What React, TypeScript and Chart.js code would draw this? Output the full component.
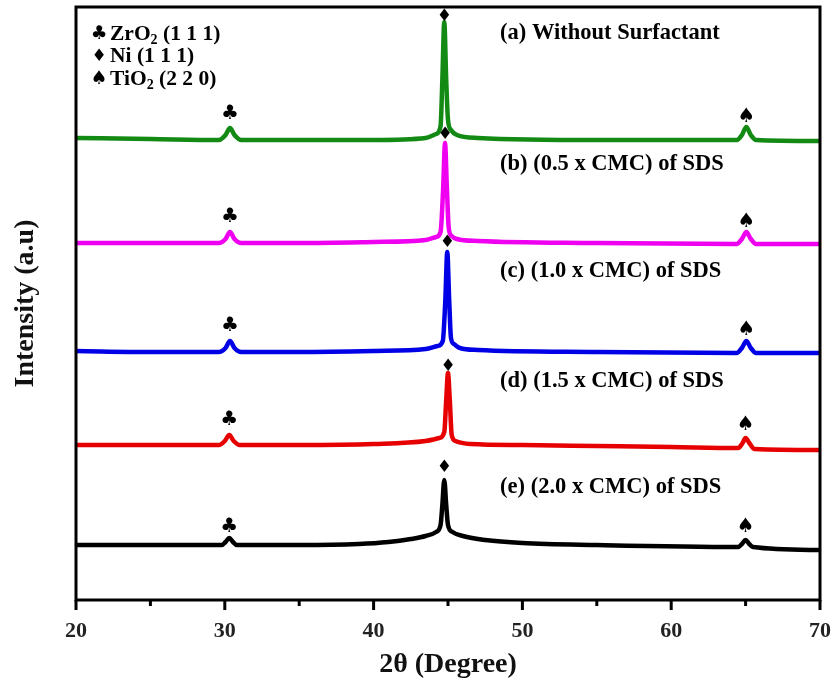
import React, { useEffect, useRef } from "react";
import { Chart, registerables } from "chart.js";

Chart.register(...registerables);

// ---------- data ----------
const X_MIN = 20;
const X_MAX = 70;
const X_TICKS = [20, 30, 40, 50, 60, 70];
const X_MINOR = [25, 35, 45, 55, 65];

const SERIES_NAMES = [
  "(a) Without Surfactant",
  "(b) (0.5 x CMC) of SDS",
  "(c) (1.0 x CMC) of SDS",
  "(d) (1.5 x CMC) of SDS",
  "(e) (2.0 x CMC) of SDS",
];
const COLORS = ["#138a13", "#f000f0", "#0000e6", "#e60000", "#000000"];

// (a) Without Surfactant
const xA = [20, 25, 29.6, 30.05, 30.35, 30.65, 31.1, 35, 40, 43.5, 44.2, 44.5, 44.62, 44.75, 44.88, 45.0, 45.2, 45.6, 47, 55, 64.4, 64.75, 65.05, 65.35, 65.7, 70];
const yA = [462, 461, 460, 465, 472, 465, 460, 460, 460, 462, 466, 474, 520, 578, 520, 480, 470, 465, 462, 460, 460, 465, 473, 465, 460, 459];

// (b) 0.5 x CMC
const xB = [20, 25, 29.6, 30.05, 30.35, 30.65, 31.1, 35, 40, 43.5, 44.2, 44.5, 44.67, 44.8, 44.93, 45.05, 45.25, 45.6, 47, 55, 64.4, 64.75, 65.05, 65.35, 65.7, 70];
const yB = [357, 357, 357, 361, 368, 361, 357, 357, 358, 360, 363, 368, 410, 457, 410, 372, 364, 361, 359, 357, 356, 361, 368, 361, 356, 356];

// (c) 1.0 x CMC
const xC = [20, 25, 29.6, 30.05, 30.35, 30.65, 31.1, 35, 40, 43.5, 44.3, 44.65, 44.82, 44.95, 45.08, 45.2, 45.4, 45.8, 47, 55, 64.4, 64.75, 65.05, 65.35, 65.7, 70];
const yC = [249, 248, 248, 252, 259, 252, 248, 248, 249, 251, 254, 259, 300, 348, 300, 262, 256, 252, 250, 248, 247, 252, 259, 252, 247, 247];

// (d) 1.5 x CMC
const xD = [20, 25, 29.6, 30.0, 30.3, 30.6, 31.0, 35, 40, 43.5, 44.4, 44.75, 44.88, 45.0, 45.12, 45.25, 45.5, 46.5, 50, 55, 60, 64.5, 64.8, 65.0, 65.25, 65.6, 70];
const yD = [155, 155, 155, 159, 165, 159, 155, 155, 156, 159, 162, 168, 200, 227, 200, 165, 159, 156, 155, 154, 153, 152, 157, 162, 157, 151, 150];

// (e) 2.0 x CMC
const xE = [20, 25, 29.8, 30.05, 30.3, 30.55, 30.8, 35, 39, 41, 42.5, 43.5, 44.2, 44.5, 44.62, 44.75, 44.88, 45.0, 45.3, 46, 47.5, 50, 55, 64.5, 64.75, 65.0, 65.25, 65.5, 70];
const yE = [55, 55, 55, 58, 62, 58, 55, 55, 56, 58, 61, 64, 68, 75, 95, 120, 95, 75, 68, 64, 60, 57, 55, 53, 56, 60, 56, 53, 50];

const SERIES_X = [xA, xB, xC, xD, xE];
const SERIES_Y = [yA, yB, yC, yD, yE];

// peak markers (2θ, intensity)
const CLUB_X = [30.35, 30.35, 30.35, 30.3, 30.3];
const CLUB_Y = [486, 383, 274, 180, 73];
const DIAMOND_X = [44.75, 44.8, 44.95, 45.0, 44.75];
const DIAMOND_Y = [583, 465, 357, 233, 132];
const SPADE_X = [65.05, 65.05, 65.05, 65.0, 65.0];
const SPADE_Y = [483, 378, 270, 175, 73];

// curve label anchors
const LABEL_X = 48.5;
const LABEL_Y = [567, 436, 329, 219, 113];

const LEGEND = [
  { sym: "\u2663", main: "ZrO", sub: "2", rest: " (1 1 1)" },
  { sym: "\u2666", main: "Ni (1 1 1)", sub: "", rest: "" },
  { sym: "\u2660", main: "TiO", sub: "2", rest: " (2 2 0)" },
];

const SERIF = "'Liberation Serif', 'Times New Roman', serif";
const SYMF = "'DejaVu Sans', sans-serif";

const decorPlugin = {
  id: "decor",
  afterDraw(chart: any) {
    const { ctx, chartArea } = chart;
    const xs = chart.scales.x;
    const ys = chart.scales.y;
    ctx.save();

    // frame
    ctx.strokeStyle = "#000";
    ctx.lineWidth = 3;
    ctx.strokeRect(chartArea.left, chartArea.top, chartArea.right - chartArea.left, chartArea.bottom - chartArea.top);

    // tick marks
    const drawTick = (v: number, len: number) => {
      const px = xs.getPixelForValue(v);
      ctx.beginPath();
      ctx.moveTo(px, chartArea.bottom);
      ctx.lineTo(px, chartArea.bottom + len);
      ctx.stroke();
    };
    X_TICKS.forEach((v) => drawTick(v, 10));
    X_MINOR.forEach((v) => drawTick(v, 6));

    // peak symbols
    ctx.fillStyle = "#000";
    ctx.textAlign = "center";
    ctx.textBaseline = "middle";
    const sym = (s: string, xv: number[], yv: number[], size: number) => {
      ctx.font = `${size}px ${SYMF}`;
      for (let i = 0; i < xv.length; i++) {
        ctx.fillText(s, xs.getPixelForValue(xv[i]), ys.getPixelForValue(yv[i]));
      }
    };
    sym("\u2663", CLUB_X, CLUB_Y, 20);
    sym("\u2666", DIAMOND_X, DIAMOND_Y, 17);
    sym("\u2660", SPADE_X, SPADE_Y, 20);

    // curve labels
    ctx.textAlign = "left";
    ctx.font = `bold 22.5px ${SERIF}`;
    SERIES_NAMES.forEach((n, i) => {
      ctx.fillText(n, xs.getPixelForValue(LABEL_X), ys.getPixelForValue(LABEL_Y[i]));
    });

    // legend
    const lx = chartArea.left + 14;
    const ly0 = chartArea.top + 27;
    LEGEND.forEach((e, i) => {
      const y = ly0 + i * 22.5;
      ctx.font = `${e.sym === "\u2666" ? 17 : 19}px ${SYMF}`;
      ctx.textAlign = "center";
      ctx.fillText(e.sym, lx + 9, y);
      ctx.textAlign = "left";
      let x = lx + 20;
      ctx.font = `bold 21.5px ${SERIF}`;
      ctx.fillText(e.main, x, y);
      x += ctx.measureText(e.main).width;
      if (e.sub) {
        ctx.font = `bold 14px ${SERIF}`;
        ctx.fillText(e.sub, x, y + 6);
        x += ctx.measureText(e.sub).width;
        ctx.font = `bold 21.5px ${SERIF}`;
        ctx.fillText(e.rest, x, y);
      }
    });

    ctx.restore();
  },
};

export default function App() {
  const ref = useRef<HTMLCanvasElement | null>(null);

  useEffect(() => {
    if (!ref.current) return;
    const datasets = SERIES_NAMES.map((name, i) => ({
      label: name,
      data: SERIES_X[i].map((x, j) => ({ x, y: SERIES_Y[i][j] })),
      borderColor: COLORS[i],
      backgroundColor: COLORS[i],
      borderWidth: 4.5,
      pointRadius: 0,
      cubicInterpolationMode: "monotone" as const,
      fill: false,
    }));
    const chart = new Chart(ref.current, {
      type: "line",
      data: { datasets },
      plugins: [decorPlugin],
      options: {
        animation: false,
        responsive: false,
        devicePixelRatio: 1,
        layout: { padding: { left: 0, top: 7, right: 13, bottom: 0 } },
        plugins: { legend: { display: false }, tooltip: { enabled: false } },
        scales: {
          x: {
            type: "linear",
            min: X_MIN,
            max: X_MAX,
            afterBuildTicks: (s: any) => {
              s.ticks = X_TICKS.map((v) => ({ value: v }));
            },
            afterFit: (s: any) => {
              s.height = 86;
              s.paddingLeft = 0;
              s.paddingRight = 0;
            },
            grid: { display: false, drawTicks: false },
            border: { display: false },
            ticks: {
              padding: 18,
              color: "#222",
              maxRotation: 0,
              font: { family: SERIF, size: 22, weight: "bold" },
            },
            title: {
              display: true,
              text: "2\u03B8 (Degree)",
              color: "#111",
              font: { family: SERIF, size: 28, weight: "bold" },
              padding: { top: 0, bottom: 4 },
            },
          },
          y: {
            type: "linear",
            min: 0,
            max: 593,
            afterFit: (s: any) => {
              s.width = 76;
              s.paddingTop = 0;
              s.paddingBottom = 0;
            },
            grid: { display: false, drawTicks: false },
            border: { display: false },
            ticks: { display: false },
            title: {
              display: true,
              text: "Intensity (a.u)",
              color: "#111",
              font: { family: SERIF, size: 28, weight: "bold" },
              padding: { top: 9, bottom: 0 },
            },
          },
        },
      },
    });
    return () => chart.destroy();
  }, []);

  return (
    <div style={{ position: "absolute", left: 0, top: 0, width: 833, height: 686, background: "#fff" }}>
      <canvas ref={ref} width={833} height={686} style={{ display: "block" }} />
    </div>
  );
}
